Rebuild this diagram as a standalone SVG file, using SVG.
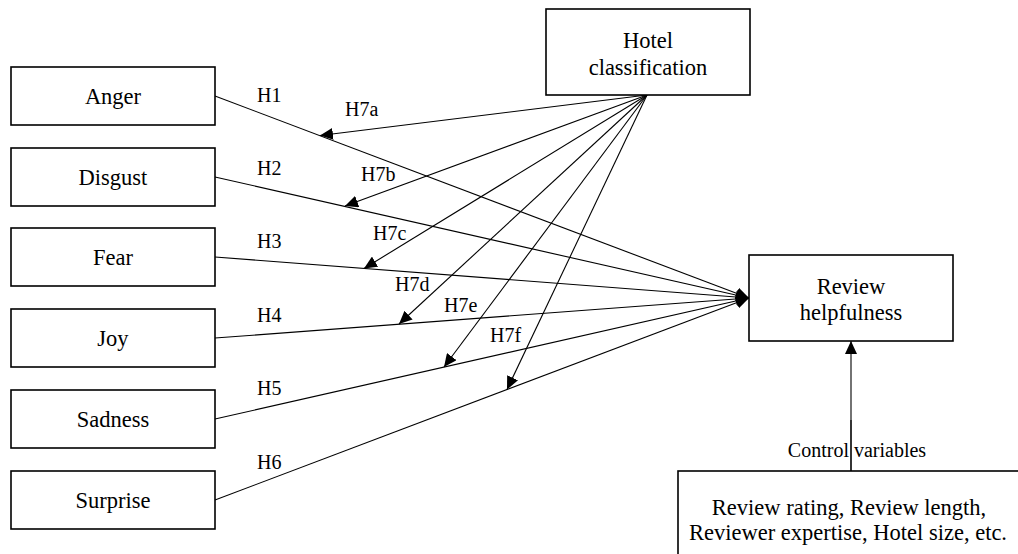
<svg xmlns="http://www.w3.org/2000/svg" width="1018" height="554" viewBox="0 0 1018 554">
<style>
.box{fill:#fff;stroke:#000;stroke-width:1.6}
.t{font-family:"Liberation Serif","Times New Roman",serif;font-size:22.5px;fill:#000;text-anchor:middle}
.lbl{font-family:"Liberation Serif","Times New Roman",serif;font-size:20px;fill:#000}
.ln{stroke:#000;stroke-width:1.1;fill:none}
.arr{marker-end:url(#ah)}
</style>
<defs>
<marker id="ah" markerUnits="userSpaceOnUse" markerWidth="14" markerHeight="12" refX="13" refY="6" orient="auto">
<path d="M0,0 L13,6 L0,12 Z" fill="#000"/>
</marker>
</defs>
<rect x="0" y="0" width="1018" height="554" fill="#fff"/>
<g id="connectors">
<line class="ln arr" x1="215" y1="96" x2="749" y2="298"/>
<line class="ln arr" x1="215" y1="177" x2="749" y2="298"/>
<line class="ln arr" x1="215" y1="257" x2="749" y2="298"/>
<line class="ln arr" x1="215" y1="338" x2="749" y2="298"/>
<line class="ln arr" x1="215" y1="419" x2="749" y2="298"/>
<line class="ln arr" x1="215" y1="500" x2="749" y2="298"/>
<line class="ln arr" x1="647" y1="95" x2="320" y2="135.5"/>
<line class="ln arr" x1="647" y1="95" x2="345" y2="206"/>
<line class="ln arr" x1="647" y1="95" x2="364" y2="268.5"/>
<line class="ln arr" x1="647" y1="95" x2="399" y2="324"/>
<line class="ln arr" x1="647" y1="95" x2="444" y2="367"/>
<line class="ln arr" x1="647" y1="95" x2="507" y2="389.5"/>
<line class="ln arr" x1="851" y1="471" x2="851" y2="341"/>
<text class="lbl" x="257" y="102">H1</text>
<text class="lbl" x="257" y="175">H2</text>
<text class="lbl" x="257" y="248">H3</text>
<text class="lbl" x="257" y="322">H4</text>
<text class="lbl" x="257" y="395">H5</text>
<text class="lbl" x="257" y="469">H6</text>
<text class="lbl" x="345" y="116">H7a</text>
<text class="lbl" x="361" y="181">H7b</text>
<text class="lbl" x="373" y="240">H7c</text>
<text class="lbl" x="395" y="291">H7d</text>
<text class="lbl" x="444" y="312">H7e</text>
<text class="lbl" x="490" y="342">H7f</text>
<text class="lbl" x="857" y="457" text-anchor="middle">Control variables</text>
<line class="ln" x1="851" y1="471" x2="851" y2="420"/>
</g>
<g id="anger"><rect class="box" x="11" y="67" width="204" height="58"/><text class="t" x="113" y="104">Anger</text></g>
<g id="disgust"><rect class="box" x="11" y="148" width="204" height="58"/><text class="t" x="113" y="185">Disgust</text></g>
<g id="fear"><rect class="box" x="11" y="228" width="204" height="58"/><text class="t" x="113" y="265">Fear</text></g>
<g id="joy"><rect class="box" x="11" y="309" width="204" height="58"/><text class="t" x="113" y="346">Joy</text></g>
<g id="sadness"><rect class="box" x="11" y="390" width="204" height="58"/><text class="t" x="113" y="427">Sadness</text></g>
<g id="surprise"><rect class="box" x="11" y="471" width="204" height="58"/><text class="t" x="113" y="508">Surprise</text></g>
<g id="hotel"><rect class="box" x="546" y="9" width="204" height="86"/><text class="t" x="648" y="48">Hotel</text><text class="t" x="648" y="75">classification</text></g>
<g id="helpfulness"><rect class="box" x="749" y="255" width="204" height="86"/><text class="t" x="851" y="294">Review</text><text class="t" x="851" y="320">helpfulness</text></g>
<g id="controls"><rect class="box" x="678" y="471" width="360" height="100"/><text class="t" x="849" y="515">Review rating, Review length,</text><text class="t" x="848" y="540">Reviewer expertise, Hotel size, etc.</text></g>
</svg>
